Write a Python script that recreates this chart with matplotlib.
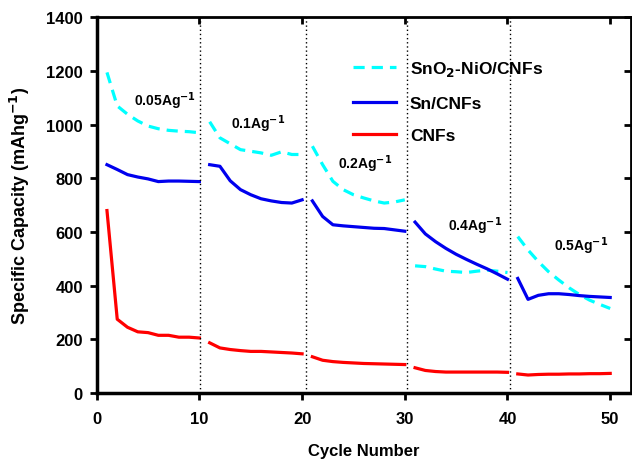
import numpy as np
import matplotlib
matplotlib.use("Agg")
import matplotlib.pyplot as plt

plt.rcParams['font.family'] = ['Liberation Sans', 'DejaVu Sans']
plt.rcParams['font.weight'] = 'bold'

# data, one segment of 10 cycles per current density
cycles = np.arange(1, 51)

sno2_nio = [1195, 1070, 1039, 1014, 995, 985, 979, 976, 974, 970,
            1011, 951, 929, 907, 901, 895, 886, 899, 889, 889,
            920, 851, 789, 758, 739, 727, 716, 708, 712, 720,
            474, 471, 462, 454, 452, 449, 454, 458, 454, 449,
            583, 533, 490, 452, 421, 392, 367, 346, 330, 315]

sn_cnfs = [851, 833, 814, 805, 798, 788, 790, 790, 789, 788,
           851, 845, 791, 758, 739, 724, 716, 710, 708, 720,
           716, 658, 627, 623, 620, 617, 614, 613, 608, 603,
           637, 593, 564, 539, 517, 498, 480, 463, 444, 424,
           427, 349, 364, 370, 370, 367, 363, 360, 358, 356]

cnfs = [680, 275, 245, 228, 225, 215, 215, 208, 208, 205,
        187, 168, 162, 158, 155, 155, 153, 151, 149, 146,
        135, 122, 117, 114, 112, 110, 109, 108, 107, 106,
        94, 84, 80, 78, 78, 78, 78, 78, 78, 77,
        71, 67, 69, 70, 70, 71, 71, 72, 72, 73]

rate_labels = ['0.05', '0.1', '0.2', '0.4', '0.5']
rate_x = [6.6, 15.7, 26.1, 36.8, 47.2]
rate_y = [1090, 1007, 857, 625, 550]
dividers = [10.1, 20.4, 30.2, 40.2]

fig = plt.figure(figsize=(6.32, 4.60), dpi=100)
ax = fig.add_axes([0.153, 0.1435, 0.845, 0.8165])

for i in range(5):
    s = slice(10 * i, 10 * i + 10)
    ax.plot(cycles[s], sno2_nio[s], color='#00ffff', lw=2.3, ls=(0, (3.5, 2.2)),
            label='SnO$_2$-NiO/CNFs' if i == 0 else None)
    ax.plot(cycles[s], sn_cnfs[s], color='#0000ee', lw=2.3,
            label='Sn/CNFs' if i == 0 else None)
    ax.plot(cycles[s], cnfs[s], color='#ff0000', lw=2.3,
            label='CNFs' if i == 0 else None)

for xd in dividers:
    ax.axvline(xd, color='black', lw=1, ls=(0, (1, 2)))

for lab, tx, ty in zip(rate_labels, rate_x, rate_y):
    ax.text(tx, ty, lab + 'Ag$^{\\mathbf{-1}}$', ha='center', va='center',
            fontsize=10, fontweight='bold')

ax.set_xlim(0, 52)
ax.set_ylim(0, 1400)
ax.set_xticks([0, 10, 20, 30, 40, 50])
ax.set_yticks(np.arange(0, 1401, 200))
ax.tick_params(direction='out', width=2, length=5, labelsize=12)
ax.tick_params(axis='x', pad=8)
ax.tick_params(axis='y', pad=5)
for lab in ax.get_xticklabels() + ax.get_yticklabels():
    lab.set_fontweight('bold')
for side in ['left', 'bottom']:
    ax.spines[side].set_linewidth(2.5)
for side in ['top', 'right']:
    ax.spines[side].set_linewidth(2)

top = ax.secondary_xaxis('top')
top.set_xticks([10, 20, 30, 40, 50])
top.tick_params(direction='in', width=2, length=5, labeltop=False)
right = ax.secondary_yaxis('right')
right.set_yticks(np.arange(200, 1401, 200))
right.tick_params(direction='in', width=2, length=5, labelright=False)

ax.set_xlabel('Cycle Number', fontsize=12, fontweight='bold', labelpad=12)
ax.set_ylabel('Specific Capacity (mAhg$^{\\mathbf{-1}}$)', fontsize=13,
              fontweight='bold', labelpad=10)

leg = ax.legend(loc='upper left', bbox_to_anchor=(0.45, 0.93), frameon=False,
                fontsize=12.5, handlelength=2.5, labelspacing=1.0,
                handletextpad=0.8)
for t in leg.get_texts():
    t.set_fontweight('bold')

fig.savefig('out.png', dpi=100)
